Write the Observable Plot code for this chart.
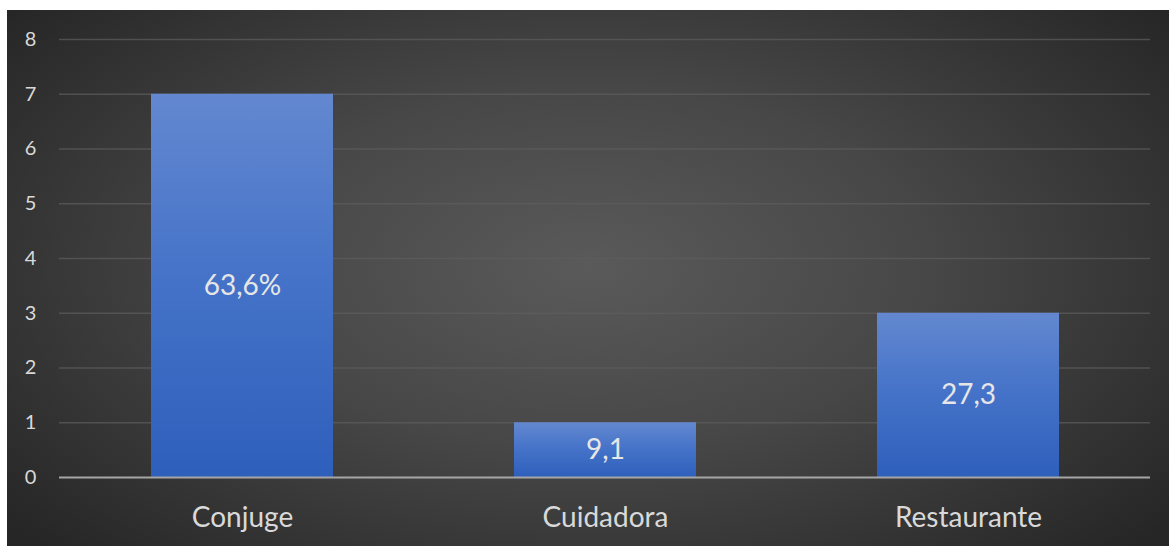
<!DOCTYPE html>
<html>
<head>
<meta charset="utf-8">
<script src="https://cdn.jsdelivr.net/npm/d3@7"></script>
<script src="https://cdn.jsdelivr.net/npm/@observablehq/plot@0.6"></script>
<style>
  html, body { margin: 0; padding: 0; background: #ffffff; }
  #wrap { padding-top: 10px; padding-left: 7px; width: 1162px; height: 536px; }
  #chart svg { display: block; }
</style>
</head>
<body>
<div id="wrap"><div id="chart"></div></div>
<script>
const categories = ["Conjuge", "Cuidadora", "Restaurante"];
const counts = [7, 1, 3];
const barLabels = ["63,6%", "9,1", "27,3"];
const yTicks = [0, 1, 2, 3, 4, 5, 6, 7, 8];

const data = categories.map((c, i) => ({category: c, count: counts[i], label: barLabels[i]}));

const defs = () => {
  const d = d3.create("svg:defs");
  const g = d.append("linearGradient").attr("id", "barGrad").attr("x1", 0).attr("y1", 0).attr("x2", 0).attr("y2", 1);
  g.append("stop").attr("offset", "0%").attr("stop-color", "#6388d0");
  g.append("stop").attr("offset", "50%").attr("stop-color", "#4472c8");
  g.append("stop").attr("offset", "100%").attr("stop-color", "#2e5fbb");
  const f = d.append("filter").attr("id", "shadow").attr("x", "-10%").attr("y", "-10%").attr("width", "120%").attr("height", "120%");
  f.append("feDropShadow").attr("dx", -3).attr("dy", 4).attr("stdDeviation", 2).attr("flood-color", "#000").attr("flood-opacity", 0.45);
  return d.node();
};

const chart = Plot.plot({
  width: 1162,
  height: 536,
  marginLeft: 52,
  marginRight: 19,
  marginTop: 29,
  marginBottom: 69,
  style: {
    background: "radial-gradient(ellipse 65% 75% at 50% 48%, #5a5a5a 0%, #474747 45%, #2f2f2f 85%, #262626 100%)",
    fontFamily: "Lato, 'Open Sans', sans-serif",
    color: "#d9d9d9"
  },
  x: {domain: categories, paddingInner: 0.5, paddingOuter: 0.25, label: null, axis: null},
  y: {domain: [0, 8], label: null, axis: null},
  marks: [
    defs,
    Plot.gridY(yTicks.filter(t => t > 0), {stroke: "#5e5e5e", strokeOpacity: 0.7, strokeWidth: 1.5}),
    Plot.text(yTicks, {y: d => d, text: d => String(d), frameAnchor: "left", dx: -29, textAnchor: "middle", fontSize: 20, fill: "#d9d9d9"}),
    Plot.axisX({tickSize: 0, tickPadding: 30, fontSize: 28, fill: "#d9d9d9", label: null}),
    Plot.barY(data, {x: "category", y: "count", fill: "url(#barGrad)", style: {filter: "url(#shadow)"}}),
    Plot.ruleY([0], {stroke: "#a6a6a6", strokeWidth: 2}),
    Plot.text(data, {x: "category", y: d => d.count / 2, text: "label", fill: "#e6e6e6", fontSize: 28, dy: 0})
  ]
});
document.getElementById("chart").append(chart);
</script>
</body>
</html>
